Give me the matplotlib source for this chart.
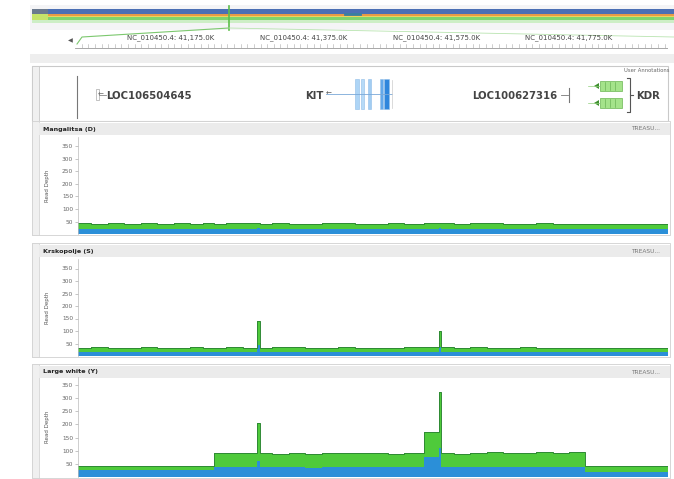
import matplotlib
matplotlib.use('Agg')
import matplotlib.pyplot as plt
from matplotlib.patches import Rectangle, Polygon
import numpy as np

W, H = 674, 479

# ---------------------------------------------------------------- data
chrom = 'NC_010450.4'
ruler_kb = [41175, 41375, 41575, 41775]
view_kb = (41030, 41925)

samples = ['Mangalitsa (D)', 'Krskopolje (S)', 'Large white (Y)']

# coverage breakpoints (kb), step 'post'
pos_kb = [41030, 41050, 41075, 41100, 41125, 41150, 41175, 41200, 41220, 41237,
          41255, 41280, 41302, 41306, 41325, 41350, 41375, 41400, 41425, 41450,
          41475, 41500, 41525, 41555, 41577, 41581, 41600, 41625, 41650, 41675,
          41700, 41725, 41750, 41775, 41799, 41820, 41845, 41870, 41895, 41925]

total_depth = {
    'Mangalitsa (D)':  [44, 42, 43, 41, 43, 42, 44, 42, 43, 42,
                        44, 43, 45, 42, 43, 41, 42, 44, 43, 42,
                        41, 43, 42, 44, 45, 43, 42, 44, 43, 41,
                        42, 43, 42, 41, 42, 41, 40, 41, 40, 40],
    'Krskopolje (S)':  [34, 35, 33, 34, 35, 34, 33, 35, 34, 34,
                        35, 34, 142, 34, 36, 35, 33, 34, 35, 34,
                        33, 34, 35, 36, 102, 35, 34, 35, 34, 33,
                        35, 34, 33, 34, 34, 33, 34, 34, 33, 33],
    'Large white (Y)': [42, 41, 40, 43, 42, 41, 43, 42, 40, 90,
                        93, 91, 205, 91, 89, 92, 88, 92, 90, 93,
                        91, 89, 92, 171, 323, 90, 88, 92, 95, 93,
                        91, 94, 92, 95, 42, 40, 41, 40, 41, 40],
}
low_depth = {
    'Mangalitsa (D)':  [21, 22, 21, 20, 22, 21, 22, 21, 22, 21,
                        22, 21, 23, 21, 22, 20, 21, 22, 21, 21,
                        20, 22, 21, 22, 23, 22, 21, 22, 21, 20,
                        21, 22, 21, 20, 21, 20, 20, 21, 20, 20],
    'Krskopolje (S)':  [18, 18, 17, 18, 18, 17, 18, 18, 17, 18,
                        18, 17, 45, 18, 18, 17, 18, 17, 18, 18,
                        17, 18, 18, 18, 35, 18, 18, 17, 18, 17,
                        18, 17, 18, 18, 17, 18, 17, 17, 18, 18],
    'Large white (Y)': [27, 27, 26, 27, 28, 27, 26, 27, 27, 38,
                        37, 38, 60, 37, 38, 38, 36, 37, 38, 37,
                        38, 37, 38, 76, 110, 38, 37, 37, 38, 38,
                        37, 38, 37, 38, 19, 18, 19, 18, 19, 18],
}
depth_ticks = [50, 100, 150, 200, 250, 300, 350]

# ---------------------------------------------------------------- figure
fig = plt.figure(figsize=(W / 100, H / 100), dpi=100)
bg = fig.add_axes([0, 0, 1, 1])
bg.set_xlim(0, W)
bg.set_ylim(H, 0)
bg.axis('off')


def px_axes(x0, y0, x1, y1):
    return fig.add_axes([x0 / W, 1 - y1 / H, (x1 - x0) / W, (y1 - y0) / H])


# overview strip
bg.add_patch(Rectangle((30, 5), 644, 25, fc='#f4f4f6', ec='none'))
stripes = [(9, 5, '#4b6fb4'), (14, 1.6, '#e79a45'), (15.6, 1.6, '#efd35c'),
           (17.2, 3, '#7fd36e'), (20.2, 3, '#cdeec6')]
for y, h, c in stripes:
    bg.add_patch(Rectangle((32, y), 642, h, fc=c, ec='none'))
bg.add_patch(Rectangle((32, 9), 16, 5, fc='#6b7a8e', ec='none'))
bg.add_patch(Rectangle((32, 14), 16, 6, fc='#c5e36a', ec='none'))
bg.plot([229, 229], [6, 30], color='#5cbf4a', lw=1.2)
bg.plot([345, 360], [14, 14], color='#3a7fa0', lw=2)
bg.plot([77, 82, 229], [44, 37, 28], color='#7cc86e', lw=0.8)
bg.plot([229, 674], [28, 37], color='#b9e4b0', lw=0.6)

# ruler
bg.text(70, 41, '\u25c0', fontsize=4.5, color='#555', ha='center', va='center')
rl = px_axes(75, 30, 668, 50)
rl.set_xlim(*view_kb)
rl.set_ylim(0, 1)
rl.axis('off')
rl.plot(view_kb, [0.1, 0.1], color='#999', lw=0.6)
for k in np.arange(41040, 41925, 10):
    h = 0.32 if k % 50 == 25 else 0.2
    rl.plot([k, k], [0.1, 0.1 + h], color='#aaa', lw=0.4)
for k in ruler_kb:
    rl.text(k, 0.62, f'{chrom}: {k // 1000},{k % 1000:03d}.0K', fontsize=5,
            color='#444', ha='center', va='center')

bg.add_patch(Rectangle((30, 54), 644, 9, fc='#eeeeee', ec='none'))

# gene track
gene_font = dict(fontsize=7.3, fontweight='bold', color='#444', va='center')
bg.add_patch(Rectangle((32, 66), 636, 55, fc='white', ec='#c9c9c9', lw=0.8))
bg.add_patch(Rectangle((32, 66), 7, 55, fc='#f0f0f0', ec='#c9c9c9', lw=0.6))
bg.plot([77, 77], [76, 118], color='#777', lw=0.8)
bg.text(670, 70, 'User Annotations', fontsize=3.8, color='#666', ha='right', va='center')

bg.add_patch(Rectangle((96, 89), 3, 11, fc='white', ec='#aaa', lw=0.5))
bg.plot([99, 106], [95, 95], color='#888', lw=0.6)
bg.text(101, 95, '\u2190', fontsize=5, color='#666', ha='center', va='center')
bg.text(106, 95.5, 'LOC106504645', ha='left', **gene_font)

bg.text(324, 95.5, 'KIT', ha='right', **gene_font)
bg.plot([326, 392], [94, 94], color='#7aa8d8', lw=0.6)
bg.text(329, 94, '\u2190', fontsize=5, color='#555', ha='center', va='center')
for x0, w, c in [(355, 4, '#aed5f6'), (361, 3, '#b6daf7'), (368, 3, '#a2cdf2'),
                 (380, 3, '#63a8ea'), (384, 5, '#2f86dc')]:
    bg.add_patch(Rectangle((x0, 79), w, 30, fc=c, ec='#8fbde8', lw=0.4))
bg.plot([392, 392], [80, 108], color='#ccc', lw=0.5)

bg.text(472, 95.5, 'LOC100627316', ha='left', **gene_font)
bg.plot([561, 568], [95, 95], color='#777', lw=0.6)
bg.plot([569, 569], [88, 102], color='#777', lw=0.8)

for yr in (86, 103):
    bg.add_patch(Polygon([[594, yr], [599, yr - 3], [599, yr + 3]], fc='#3f8f2f', ec='none'))
    bg.plot([588, 600], [yr, yr], color='#8fcf7a', lw=0.5)
    bg.add_patch(Rectangle((600, yr - 5), 22, 10, fc='#a4e38a', ec='#6cb653', lw=0.5))
    for xl in (605, 610, 615):
        bg.plot([xl, xl], [yr - 4, yr + 4], color='#5fa84a', lw=0.4)
bg.plot([627, 630, 630, 627], [78, 78, 112, 112], color='#555', lw=0.8)
bg.plot([630, 633], [95, 95], color='#555', lw=0.8)
bg.text(636, 95.5, 'KDR', ha='left', **gene_font)

# coverage panels: header top, axes top, axes bottom, ylim top
layout = [(123, 137, 234, 388), (245, 259, 356, 388), (366, 377, 477, 380)]

for name, (hy, ay0, ay1, ytop) in zip(samples, layout):
    bg.add_patch(Rectangle((32, hy - 2), 638, ay1 - hy + 3, fc='white', ec='#d0d0d0', lw=0.6))
    bg.add_patch(Rectangle((32, hy - 2), 7, ay1 - hy + 3, fc='#f0f0f0', ec='#d0d0d0', lw=0.5))
    bg.add_patch(Rectangle((39, hy), 631, 12, fc='#ebebeb', ec='none'))
    bg.text(43, hy + 6, name, fontsize=4.6, fontweight='bold', color='#222',
            ha='left', va='center')
    bg.text(660, hy + 6, 'TREASU...', fontsize=4.2, color='#777', ha='right', va='center')
    bg.text(48, (ay0 + ay1) / 2, 'Read Depth', fontsize=4, color='#555', rotation=90,
            ha='center', va='center')

    ax = px_axes(78, ay0, 668, ay1)
    x = np.array(pos_kb)
    tot = np.array(total_depth[name])
    low = np.array(low_depth[name])
    ax.fill_between(x, 0, tot, step='post', color='#4fca3b', lw=0)
    ax.step(x, tot, where='post', color='#2f8a34', lw=0.7)
    ax.fill_between(x, 0, low, step='post', color='#2b8fd8', lw=0)
    ax.set_xlim(*view_kb)
    ax.set_ylim(0, ytop)
    ax.set_yticks(depth_ticks)
    ax.set_yticklabels([str(t) for t in depth_ticks])
    ax.tick_params(axis='y', labelsize=4.2, labelcolor='#666', length=2, width=0.4,
                   color='#999', pad=1.5)
    ax.set_xticks([])
    for s in ('top', 'right', 'bottom'):
        ax.spines[s].set_visible(False)
    ax.spines['left'].set_color('#bbb')
    ax.spines['left'].set_linewidth(0.5)
    ax.patch.set_alpha(0)

fig.savefig('out.png', dpi=100)
